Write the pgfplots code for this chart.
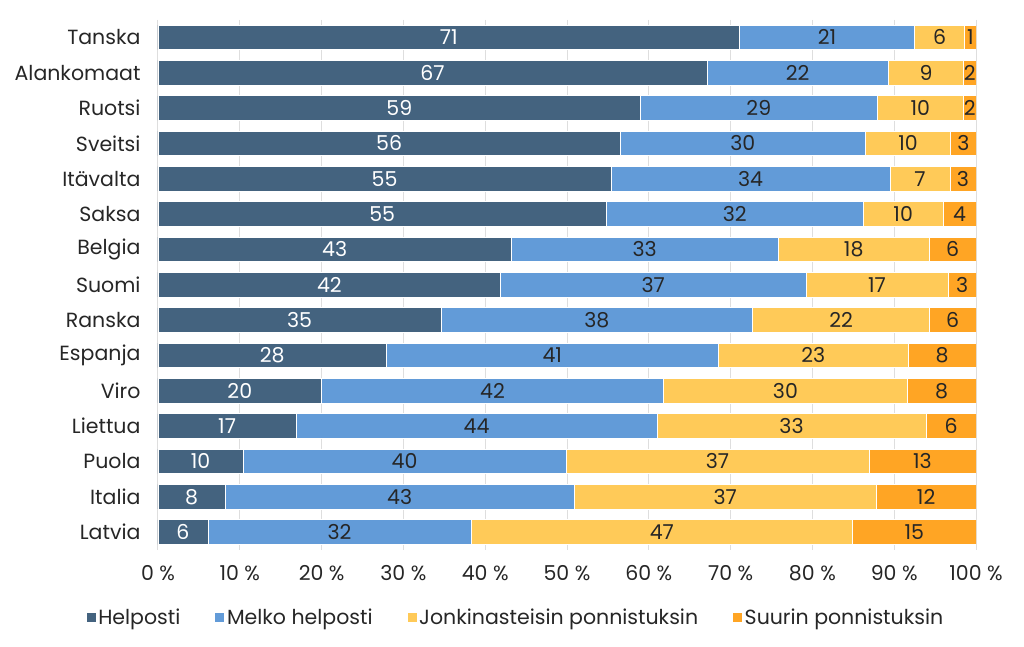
\documentclass[border=0pt]{standalone}
\usepackage{pgfplots}
\pgfplotsset{compat=1.18}
\usepackage{pgfplotstable}
\usepackage{fontspec}
\setmainfont{Poppins}
\definecolor{c1}{HTML}{44637F}
\definecolor{c2}{HTML}{629BD8}
\definecolor{c3}{HTML}{FFCA58}
\definecolor{c4}{HTML}{FFA524}
\definecolor{txt}{HTML}{262626}
% widths (share of 100 %); hl..sl are the printed labels
\pgfplotstableread{
name h m j s hl ml jl sl
Tanska 71.1 21.4 6.1 1.4 71 21 6 1
Alankomaat 67.1 22.2 9.2 1.5 67 22 9 2
Ruotsi 59.0 28.9 10.6 1.5 59 29 10 2
Sveitsi 56.5 30.0 10.4 3.1 56 30 10 3
Itävalta 55.4 34.1 7.3 3.2 55 34 7 3
Saksa 54.8 31.4 9.8 4.0 55 32 10 4
Belgia 43.2 32.6 18.5 5.7 43 33 18 6
Suomi 41.9 37.3 17.4 3.4 42 37 17 3
Ranska 34.6 38.1 21.6 5.7 35 38 22 6
Espanja 27.9 40.6 23.2 8.3 28 41 23 8
Viro 20.0 41.8 29.8 8.4 20 42 30 8
Liettua 16.9 44.1 32.9 6.1 17 44 33 6
Puola 10.4 39.5 37.0 13.1 10 40 37 13
Italia 8.2 42.7 36.9 12.2 8 43 37 12
Latvia 6.1 32.2 46.6 15.1 6 32 47 15
}\data
\begin{document}
\begin{tikzpicture}
\path[use as bounding box] (0,0) rectangle (1024pt,647pt);
\begin{axis}[
  at={(158pt,97.3pt)}, anchor=south west,
  scale only axis, width=818pt, height=530pt,
  xbar stacked, bar width=24.5pt,
  xmin=0, xmax=100, ymin=-0.5, ymax=14.5,
  y dir=reverse,
  ytick={0,...,14},
  yticklabels from table={\data}{name},
  xtick={0,10,...,100},
  xticklabel={\pgfmathprintnumber{\tick}~\%},
  /pgf/number format/assume math mode=true,
  axis line style={draw=none},
  major tick length=0pt,
  xmajorgrids, grid style={draw=black!13, line width=1pt},
  ticklabel style={font=\fontsize{20.5}{20.5}\selectfont, text=txt},
  yticklabel style={xshift=-14pt},
  xticklabel style={yshift=-12pt},
  point meta=explicit symbolic,
  nodes near coords,
  every node near coord/.append style={anchor=center,
     font=\fontsize{20.5}{20.5}\selectfont},
  legend style={at={(0.437,-0.127)}, anchor=center, draw=none, fill=none,
    font=\fontsize{20.5}{20.5}\selectfont, text=txt,
    legend columns=4, /tikz/every even column/.append style={column sep=32pt}},
  legend image code/.code={\fill[#1] (0pt,-5pt) rectangle (10pt,5pt);},
]
\addplot[fill=c1, draw=white, line width=0.6pt,
  every node near coord/.append style={text=white}]
  table[x=h, y expr=\coordindex, meta=hl] {\data};
\addplot[fill=c2, draw=white, line width=0.6pt,
  every node near coord/.append style={text=txt}]
  table[x=m, y expr=\coordindex, meta=ml] {\data};
\addplot[fill=c3, draw=white, line width=0.6pt,
  every node near coord/.append style={text=txt}]
  table[x=j, y expr=\coordindex, meta=jl] {\data};
\addplot[fill=c4, draw=white, line width=0.6pt,
  every node near coord/.append style={text=txt}]
  table[x=s, y expr=\coordindex, meta=sl] {\data};
\legend{Helposti, Melko helposti, Jonkinasteisin ponnistuksin, Suurin ponnistuksin}
\end{axis}
\end{tikzpicture}
\end{document}
